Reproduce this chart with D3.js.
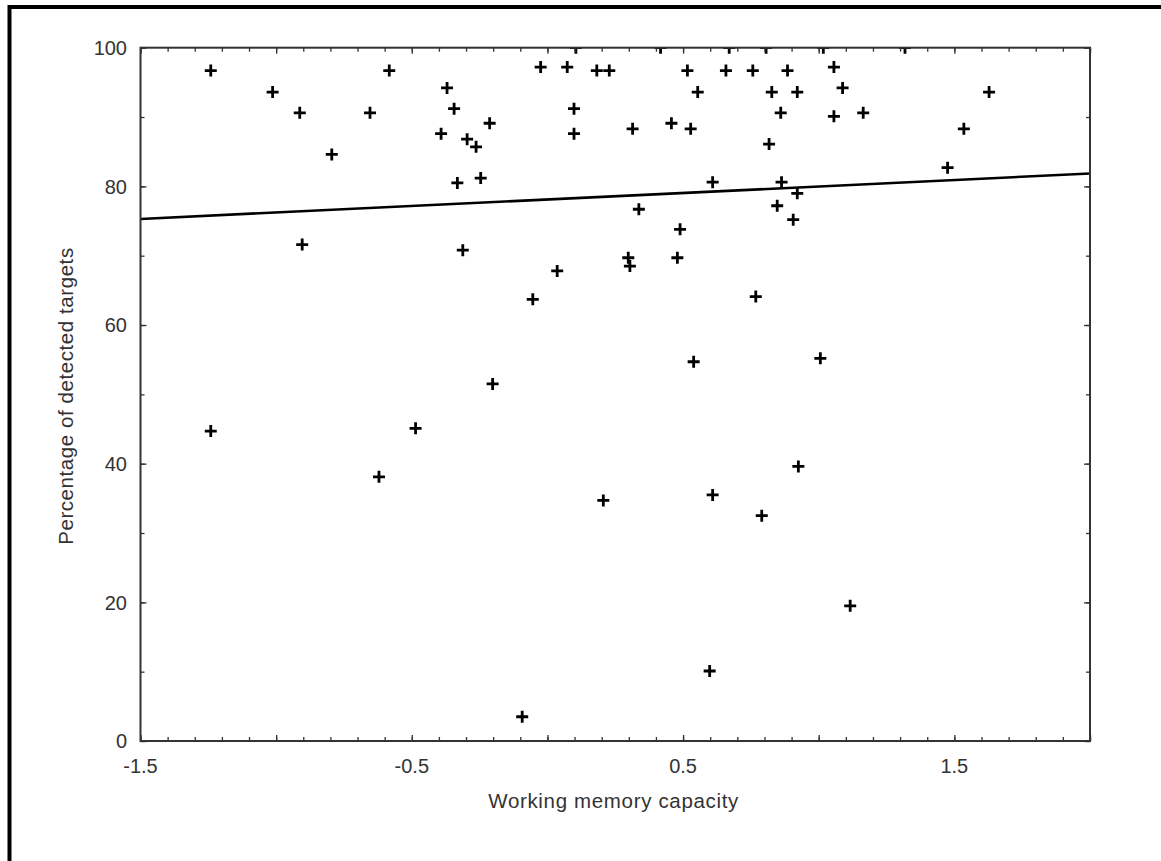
<!DOCTYPE html>
<html>
<head>
<meta charset="utf-8">
<script src="https://cdn.jsdelivr.net/npm/d3@7"></script>
<style>
  html, body { margin: 0; padding: 0; background: #fff; }
  svg { display: block; }
</style>
</head>
<body>
<script>
// ---- data ----
const wmc = [
  -1.241, -1.013, -0.913, -0.795, -0.654, -0.583, -0.370, -0.392, -0.344, -0.296, -0.332, -0.904, -0.312,
  -0.025, 0.073, 0.182, 0.228, 0.516, 0.658, 0.757, 0.885, 0.554, 0.827, 0.098, 0.860, -0.213, 0.098,
  0.314, 0.457, 0.528, 0.817, -0.263, -0.246, 0.609, 0.863, 0.337, 0.847, 0.489, 0.298, 0.304, 0.479,
  0.036, 0.906,
  1.056, 0.921, 1.088, 1.056, 1.164, 1.628, 1.535, 1.475, 0.921,
  -0.054, -0.202, -0.486, -1.241, -0.621, 0.206, -0.093,
  0.768, 0.539, 1.006, 0.925, 0.609, 0.790, 1.116, 0.598,
  0.105, 0.417, 0.670, 0.806, 1.017, 1.318
];
const detected = [
  96.7, 93.6, 90.6, 84.6, 90.6, 96.7, 94.2, 87.6, 91.2, 86.8, 80.5, 71.6, 70.8,
  97.2, 97.2, 96.7, 96.7, 96.7, 96.7, 96.7, 96.7, 93.6, 93.6, 91.2, 90.6, 89.1, 87.6,
  88.3, 89.1, 88.3, 86.1, 85.7, 81.2, 80.6, 80.6, 76.7, 77.2, 73.8, 69.7, 68.5, 69.7,
  67.8, 75.2,
  97.2, 93.6, 94.2, 90.1, 90.6, 93.6, 88.3, 82.7, 79.0,
  63.7, 51.5, 45.1, 44.7, 38.1, 34.7, 3.5,
  64.1, 54.7, 55.2, 39.6, 35.5, 32.5, 19.5, 10.1,
  100, 100, 100, 100, 100, 100
];
const fitX = [-1.5, 2.0];
const fitY = [75.3, 81.85];
const xTickLabels = [-1.5, -0.5, 0.5, 1.5];
const xMajorTicks = [-1.5, -1.0, -0.5, 0, 0.5, 1.0, 1.5, 2.0];
const yTickLabels = [0, 20, 40, 60, 80, 100];
const xTitle = "Working memory capacity";
const yTitle = "Percentage of detected targets";

// ---- layout ----
const W = 1161, H = 861;
const L = 140.5, R = 1090, T = 47.7, B = 741;
const axisColor = "#333";
const textColor = "#333";
const font = "'Liberation Sans', Arial, sans-serif";

const svg = d3.select("body").append("svg")
  .attr("width", W).attr("height", H);

svg.append("rect").attr("width", W).attr("height", H).attr("fill", "#fff");

// outer frame (only top and left edges fall inside the picture)
svg.append("path")
  .attr("d", `M9.5,${H + 5} V7 H${W + 5}`)
  .attr("fill", "none").attr("stroke", "#000").attr("stroke-width", 4);

const x = d3.scaleLinear().domain([-1.5, 2.0]).range([L, R]);
const y = d3.scaleLinear().domain([0, 100]).range([B, T]);

// clip for the plot area
svg.append("defs").append("clipPath").attr("id", "plotclip")
  .append("rect").attr("x", L).attr("y", T).attr("width", R - L).attr("height", B - T);

const plot = svg.append("g").attr("clip-path", "url(#plotclip)");

// regression line
const line = d3.line().x(d => x(d[0])).y(d => y(d[1]));
plot.append("path")
  .datum(fitX.map((v, i) => [v, fitY[i]]))
  .attr("d", line)
  .attr("fill", "none").attr("stroke", "#000").attr("stroke-width", 2.6);

// points as '+'
const pts = wmc.map((v, i) => ({ x: v, y: detected[i] }));
plot.selectAll("path.pt").data(pts).enter().append("path")
  .attr("class", "pt")
  .attr("transform", d => `translate(${x(d.x)},${y(d.y)})`)
  .attr("d", "M-6,0H6M0,-6V6")
  .attr("fill", "none").attr("stroke", "#000").attr("stroke-width", 2.8);

// axes (ticks inward, on all four sides)
const minorX = d3.range(-15, 21).map(d => d / 10);
const minorY = d3.range(0, 101, 10);

function styleAxis(g) {
  g.select(".domain").remove();
  g.selectAll(".tick line").attr("stroke", axisColor).attr("stroke-width", 1.3);
  g.selectAll(".tick text").remove();
}

svg.append("g").attr("transform", `translate(0,${B})`)
  .call(d3.axisBottom(x).tickValues(minorX).tickSize(-4)).call(styleAxis);
svg.append("g").attr("transform", `translate(0,${B})`)
  .call(d3.axisBottom(x).tickValues(xMajorTicks).tickSize(-6)).call(styleAxis);
svg.append("g").attr("transform", `translate(0,${T})`)
  .call(d3.axisTop(x).tickValues(minorX).tickSize(-4)).call(styleAxis);
svg.append("g").attr("transform", `translate(0,${T})`)
  .call(d3.axisTop(x).tickValues(xMajorTicks).tickSize(-6)).call(styleAxis);
svg.append("g").attr("transform", `translate(${L},0)`)
  .call(d3.axisLeft(y).tickValues(minorY).tickSize(-4)).call(styleAxis);
svg.append("g").attr("transform", `translate(${L},0)`)
  .call(d3.axisLeft(y).tickValues(yTickLabels).tickSize(-6)).call(styleAxis);
svg.append("g").attr("transform", `translate(${R},0)`)
  .call(d3.axisRight(y).tickValues(minorY).tickSize(-4)).call(styleAxis);
svg.append("g").attr("transform", `translate(${R},0)`)
  .call(d3.axisRight(y).tickValues(yTickLabels).tickSize(-6)).call(styleAxis);

// frame of the plot
svg.append("rect")
  .attr("x", L).attr("y", T).attr("width", R - L).attr("height", B - T)
  .attr("fill", "none").attr("stroke", axisColor).attr("stroke-width", 2);

// tick labels
svg.append("g").selectAll("text").data(xTickLabels).enter().append("text")
  .attr("x", d => x(d)).attr("y", 773)
  .attr("text-anchor", "middle")
  .attr("font-family", font).attr("font-size", 20).attr("fill", textColor)
  .text(d => String(d));

svg.append("g").selectAll("text").data(yTickLabels).enter().append("text")
  .attr("x", 127).attr("y", d => y(d)).attr("dy", "0.36em")
  .attr("text-anchor", "end")
  .attr("font-family", font).attr("font-size", 20).attr("fill", textColor)
  .text(d => String(d));

// axis titles
svg.append("text")
  .attr("x", (L + R) / 2 - 2).attr("y", 808)
  .attr("text-anchor", "middle")
  .attr("font-family", font).attr("font-size", 20.5).attr("fill", textColor)
  .attr("textLength", 250).attr("lengthAdjust", "spacing")
  .text(xTitle);

svg.append("text")
  .attr("transform", `translate(73,${(T + B) / 2 + 2}) rotate(-90)`)
  .attr("text-anchor", "middle")
  .attr("font-family", font).attr("font-size", 20.5).attr("fill", textColor)
  .attr("textLength", 297).attr("lengthAdjust", "spacing")
  .text(yTitle);
</script>
</body>
</html>
